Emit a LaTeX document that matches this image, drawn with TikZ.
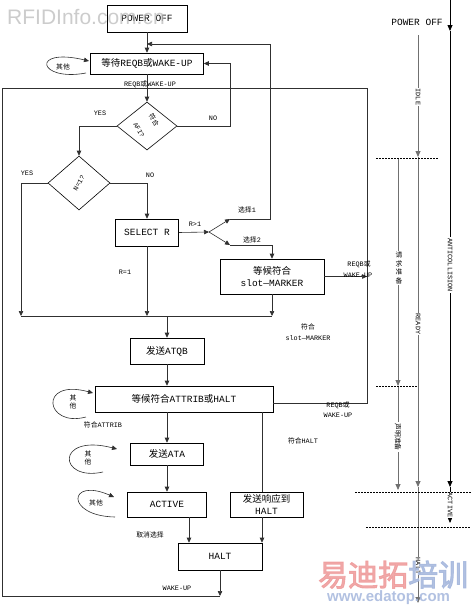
\documentclass[tikz,border=0pt]{standalone}
\usepackage{fontspec}
\setmainfont{Liberation Mono}
\newfontfamily\cjk{Noto Sans CJK SC}
\newfontfamily\cjkwm[FakeBold=3]{Noto Sans CJK SC}
\newfontfamily\wmsans{Liberation Sans}
\usetikzlibrary{arrows.meta,shapes.geometric}
\newcommand\zh[1]{{\cjk #1}}
\newcommand\fbx{\fontsize{9.5}{11.5}\selectfont}
\newcommand\fsm{\fontsize{6.8}{8.8}\selectfont}
\definecolor{ln}{HTML}{303030}
\definecolor{tg}{HTML}{707070}
\definecolor{wmred}{HTML}{EE9A9A}
\definecolor{wmblue}{HTML}{A4B6DC}
\begin{document}
\begin{tikzpicture}[x=1pt,y=-1pt,
 box/.style={draw=black,line width=0.6pt,inner sep=1pt,font=\fbx,align=center},
 dia/.style={draw=black,line width=0.6pt,diamond,inner sep=0pt},
 conn/.style={draw=ln,line width=0.6pt},
 arr/.style={conn,-{Triangle[length=5pt,width=4.5pt]}},
 lbl/.style={font=\fsm,inner sep=0.5pt,align=center},
 dots/.style={draw=black,line width=0.5pt,dash pattern=on 1.5pt off 1.5pt},
 tl/.style={draw=tg,line width=0.8pt},
 tarr/.style={tl,-{Triangle[length=6pt,width=5pt]}},
 vlab/.style={lbl,rotate=-90,fill=white,inner sep=1pt},
]
\useasboundingbox (0,0) rectangle (471,605);

% boxes
\node[box,minimum width=80pt,minimum height=27pt] (poweroff) at (147,18.5) {POWER OFF};
\node[box,minimum width=113pt,minimum height=21pt] (wait) at (147,63.5) {\zh{等待}REQB\zh{或}WAKE-UP};
\node[dia,minimum width=60pt,minimum height=48pt] (afi) at (147,126) {};
\node[lbl,rotate=-60,font=\fontsize{6.5}{8}\selectfont] (afit1) at (154,120) {\zh{符合}};
\node[lbl,rotate=-60,font=\fontsize{6.5}{8}\selectfont] (afit2) at (139,130) {AFI?};
\node[dia,minimum width=62pt,minimum height=54pt] (n1) at (79,183) {};
\node[lbl,rotate=60] (n1t) at (n1) {N=1?};
\node[box,minimum width=63pt,minimum height=27pt] (selr) at (147,232.5) {SELECT R};
\node[box,minimum width=104pt,minimum height=35pt] (slot) at (272,276.5) {\zh{等候符合}\\slot—MARKER};
\node[box,minimum width=74pt,minimum height=26pt] (atqb) at (167,351) {\zh{发送}ATQB};
\node[box,minimum width=178pt,minimum height=26pt] (wattr) at (184,399) {\zh{等候符合}ATTRIB\zh{或}HALT};
\node[box,minimum width=73pt,minimum height=22pt] (ata) at (167,454) {\zh{发送}ATA};
\node[box,minimum width=79pt,minimum height=25pt] (active) at (167,504.5) {ACTIVE};
\node[box,minimum width=84pt,minimum height=27pt] (halt) at (220,556.5) {HALT};
\node[box,minimum width=73pt,minimum height=25pt] (shalt) at (266.5,504.5) {\zh{发送响应到}\\HALT};

% coordinates
\coordinate (j1) at (147,44);
\coordinate (up1) at (270,44);
\coordinate (fork) at (209,232);
\coordinate (p1) at (230,219);
\coordinate (p1r) at (270,219);
\coordinate (p2) at (230,245);
\coordinate (noc) at (230,126);
\coordinate (b1) at (21,316);
\coordinate (b3) at (272,316);
\coordinate (tlc) at (2,88);
\coordinate (trc) at (367,88);
\coordinate (brc) at (367,403);
\coordinate (blc) at (2,596);
\coordinate (hb) at (220,596);
\coordinate (hx) at (189,0);
\coordinate (sx) at (262,0);

% connectors
\draw[arr] (poweroff.south) -- (wait.north);
\draw[arr] (wait.south) -- (afi.north);
\draw[arr] (afi.east) -- (noc) |- (wait.east);
\draw[arr] (afi.west) -| (n1.north);
\draw[arr] (n1.west) -| (b1);
\draw[arr] (n1.east) -| (selr.north);
\draw[arr] (selr.east) -- (fork);
\draw[arr] (fork) -- (p1);
\draw[conn] (p1) -- (p1r) -- (up1);
\draw[arr] (up1) -- (j1);
\draw[arr] (fork) -- (p2);
\draw[arr] (p2) -| (slot.north);
\draw[arr] (selr.south) -- (selr.south |- b1);
\draw[arr] (slot.south) -- (b3);
\draw[conn] (b1) -- (b3);
\draw[arr] (atqb.north |- b1) -- (atqb.north);
\draw[arr] (slot.east) -- (slot.east -| trc);
\draw[conn] (wattr.east |- brc) -- (brc) -- (trc) -- (tlc) -- (blc) -- (hb);
\draw[arr] (halt.south) -- (hb);
\draw[arr] (atqb.south) -- (atqb.south |- wattr.north);
\draw[arr] (atqb.south |- wattr.south) -- (ata.north);
\draw[arr] (ata.south) -- (active.north);
\draw[arr] (active.south -| hx) -- (halt.north -| hx);
\draw[conn] (wattr.south -| sx) -- (shalt.north -| sx);
\draw[arr] (shalt.south -| sx) -- (halt.north -| sx);

% self loops
\coordinate (l1s) at (86,73);   \coordinate (l1e) at (89,61);
\coordinate (l2s) at (86,417);  \coordinate (l2e) at (93,393);
\coordinate (l3s) at (103,472); \coordinate (l3e) at (117,449);
\coordinate (l4s) at (115,517); \coordinate (l4e) at (114,497);
\draw[arr] (l1s) .. controls (38,82) and (30,47) .. (l1e);
\draw[arr] (l2s) .. controls (45,428) and (38,378) .. (l2e);
\draw[arr] (l3s) .. controls (58,482) and (55,433) .. (l3e);
\draw[arr] (l4s) .. controls (65,516) and (68,477) .. (l4e);

% labels
\node[lbl] at (150,84) {REQB\zh{或}WAKE-UP};
\node[lbl] at (100,113) {YES};
\node[lbl] at (213,118) {NO};
\node[lbl] at (27,173) {YES};
\node[lbl] at (150,175) {NO};
\node[lbl] at (195,224) {R>1};
\node[lbl] at (247,210) {\zh{选择}1};
\node[lbl] at (252,240) {\zh{选择}2};
\node[lbl] at (125,272) {R=1};
\node[lbl] at (359,264) {REQB\zh{或}};
\node[lbl] at (358,275) {WAKE-UP};
\node[lbl] at (308,327) {\zh{符合}};
\node[lbl] at (308,338) {slot—MARKER};
\node[lbl] at (338,405) {REQB\zh{或}};
\node[lbl] at (338,415) {WAKE-UP};
\node[lbl] at (103,425) {\zh{符合}ATTRIB};
\node[lbl] at (303,441) {\zh{符合}HALT};
\node[lbl] at (150,535) {\zh{取消选择}};
\node[lbl] at (177,588) {WAKE-UP};
\node[lbl] at (63,67) {\zh{其他}};
\node[lbl] at (73,402) {\zh{其}\\\zh{他}};
\node[lbl] at (88,458) {\zh{其}\\\zh{他}};
\node[lbl] at (96,503) {\zh{其他}};

% right-hand state lines
\draw[tarr,draw=black] (450,0) -- (450,31);
\draw[tarr,draw=black] (450,31) -- (450,487);
\draw[tarr,draw=black] (450,487) -- (450,523);
\node[vlab] at (450,265) {ANTICOLLISION};
\node[vlab] at (450,505) {ACTIVE};
\node[lbl,font=\fbx] at (417,22) {POWER OFF};
\draw[tarr] (418,35) -- (418,157);
\draw[tarr] (418,157) -- (418,487);
\draw[tarr] (418,487) -- (418,603);
\node[vlab] at (418,97) {IDLE};
\node[vlab] at (418,324) {READY};
\node[vlab] at (418,566) {HALT};
\draw[tarr] (398,158) -- (398,386);
\draw[tarr] (398,386) -- (398,490);
\node[lbl,fill=white,inner sep=1pt] at (399,268) {\zh{请}\\\zh{求}\\\zh{准}\\\zh{备}};
\node[vlab] at (398,437) {\zh{声明准备}};
\draw[dots] (376,158) -- (439,158);
\draw[dots] (376,386) -- (418,386);
\draw[dots] (355,492) -- (471,492);
\draw[dots] (366,527) -- (471,527);

% watermarks
\node[anchor=base west,inner sep=0,font=\wmsans\fontsize{21}{21}\selectfont,text=gray!50,opacity=0.8] at (7,24) {RFIDInfo.com.cn};
\node[anchor=base west,inner sep=0,font=\cjkwm\fontsize{30}{30}\selectfont,opacity=0.85] at (318,586) {\textcolor{wmred}{易迪拓}\textcolor{wmblue}{培训}};
\node[anchor=base west,inner sep=0,font=\wmsans\bfseries\fontsize{15}{15}\selectfont,text=wmblue,opacity=0.85] at (327,601) {www.edatop.com};
\end{tikzpicture}
\end{document}
